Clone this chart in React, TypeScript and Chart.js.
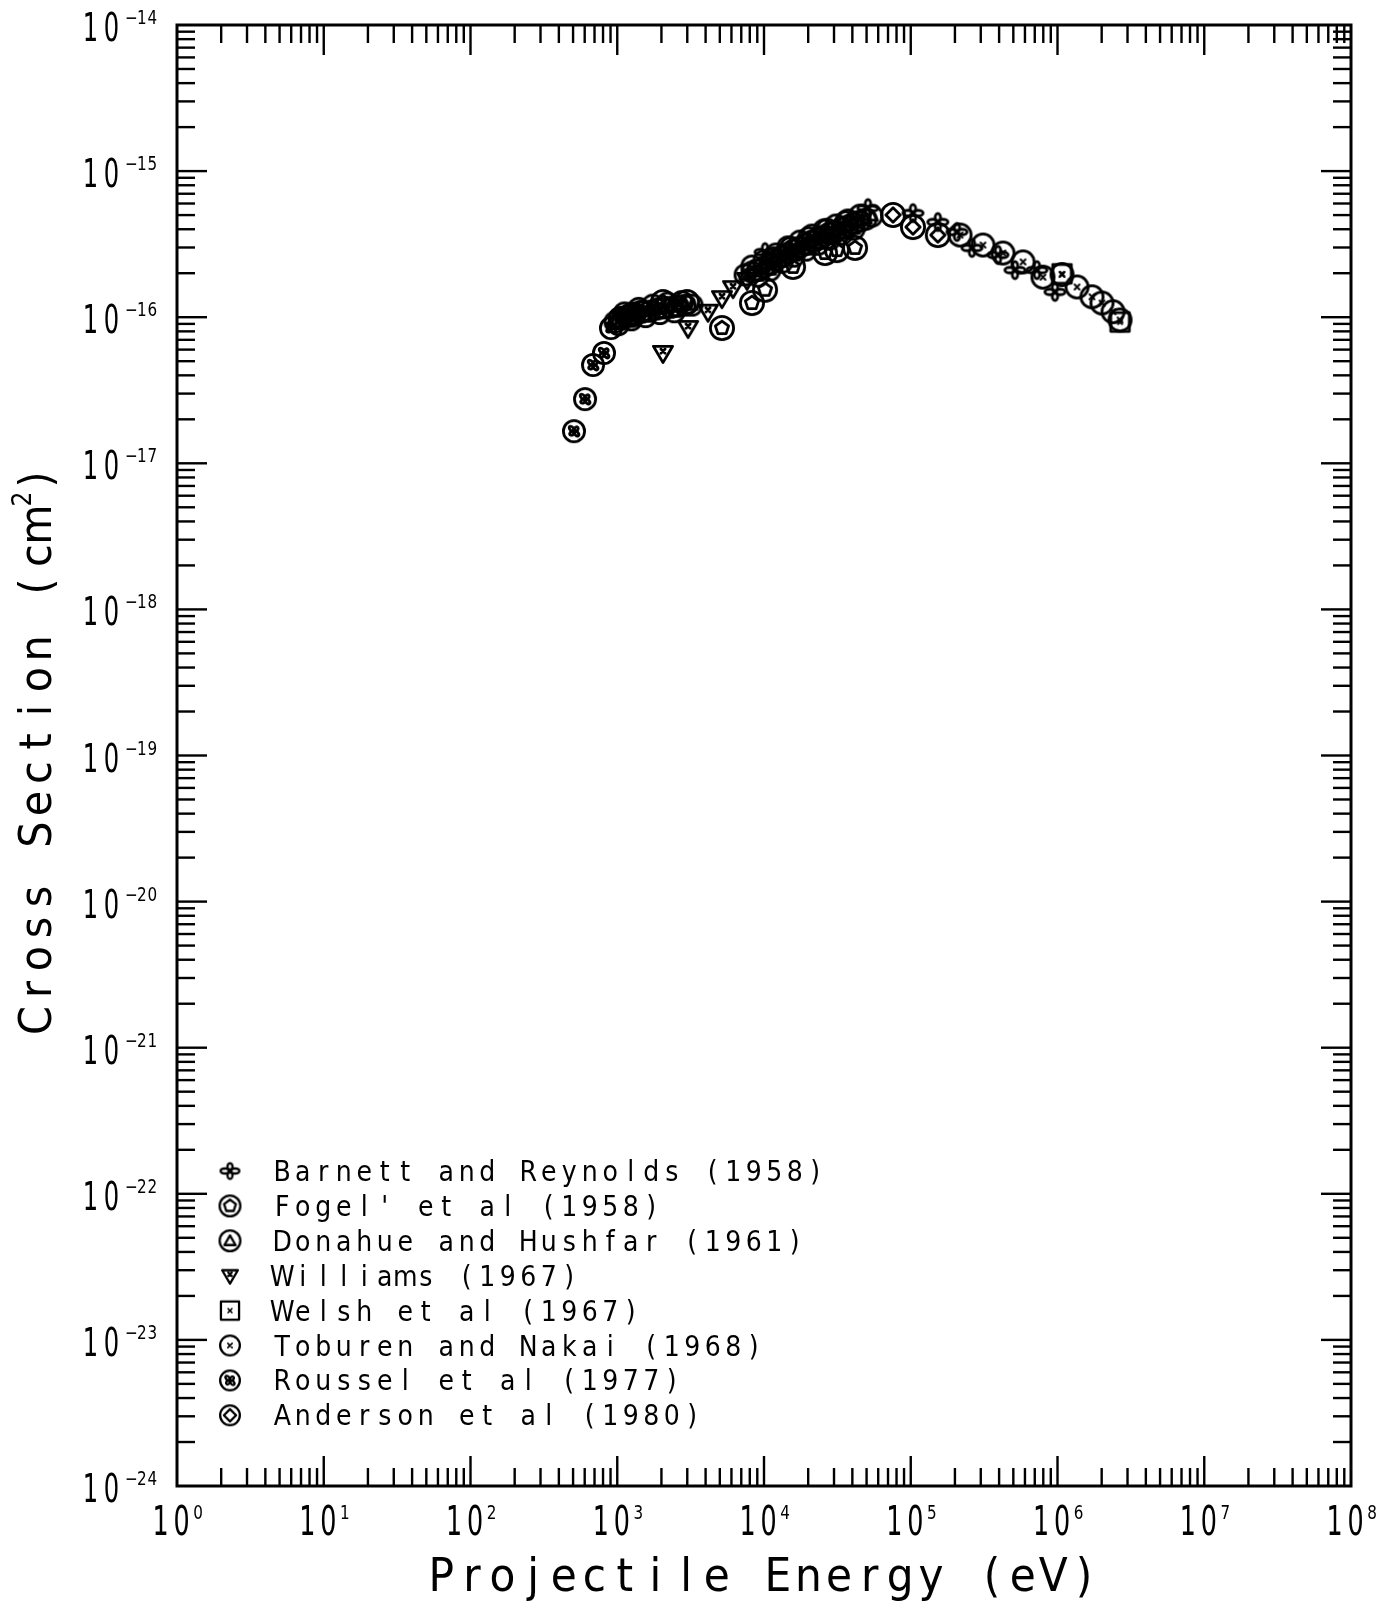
import React, { useEffect, useRef } from "react";
import { Chart, registerables } from "chart.js";
Chart.register(...registerables);

// ---------- data ----------
const seriesLabels = [
  "Barnett and Reynolds (1958)",
  "Fogel' et al (1958)",
  "Donahue and Hushfar (1961)",
  "Williams (1967)",
  "Welsh et al (1967)",
  "Toburen and Nakai (1968)",
  "Roussel et al (1977)",
  "Anderson et al (1980)",
];

const barnettE = [10160, 51100, 103500, 153000, 206600, 261400, 393000, 513000, 724000, 961000];
const barnettS = [2.79e-16, 5.58e-16, 5.16e-16, 4.48e-16, 3.83e-16, 2.98e-16, 2.67e-16, 2.1e-16, 2.1e-16, 1.49e-16];

const fogelE = [1280, 2050, 2990, 5170, 8280, 10160, 15770, 26060, 31400, 41700];
const fogelS = [1.04e-16, 1.27e-16, 1.27e-16, 8.43e-17, 1.25e-16, 1.54e-16, 2.21e-16, 2.75e-16, 2.88e-16, 2.98e-16];

const donahueE = [
  966, 1077, 1183, 1321, 1475, 1673, 1866, 2083, 2325, 2595, 2897, 3230,
  1120, 1400, 1750, 2200, 2750,
  1020, 1250, 1560, 1950, 2450,
  7430, 8280, 9100, 10000, 10990, 12080, 13270, 14580, 16000, 17590, 19330, 21240, 23340, 25650, 28180, 30970, 34030, 37360, 41050, 45110, 49570, 54470,
  8280, 10000, 12080, 14580, 17590, 21240, 25650, 30970, 37360, 45110,
  9100, 10990, 13270, 16000, 19330, 23340, 28180, 34030, 41050,
  11500, 15200, 20200, 27000, 36000,
];
const donahueS = [
  9.27e-17, 9.72e-17, 1.02e-16, 1.05e-16, 1.09e-16, 1.1e-16, 1.14e-16, 1.16e-16, 1.17e-16, 1.19e-16, 1.21e-16, 1.21e-16,
  1.07e-16, 1.15e-16, 1.21e-16, 1.25e-16, 1.28e-16,
  8.9e-17, 9.6e-17, 1.01e-16, 1.06e-16, 1.09e-16,
  1.95e-16, 2.04e-16, 2.1e-16, 2.21e-16, 2.31e-16, 2.46e-16, 2.62e-16, 2.75e-16, 2.88e-16, 3.02e-16, 3.17e-16, 3.32e-16, 3.48e-16, 3.6e-16, 3.77e-16, 3.89e-16, 4.08e-16, 4.21e-16, 4.41e-16, 4.55e-16, 4.7e-16, 4.93e-16,
  2.24e-16, 2.43e-16, 2.71e-16, 3.03e-16, 3.32e-16, 3.65e-16, 3.96e-16, 4.28e-16, 4.63e-16, 5.0e-16,
  1.91e-16, 2.1e-16, 2.38e-16, 2.62e-16, 2.88e-16, 3.16e-16, 3.43e-16, 3.71e-16, 4.01e-16,
  2.55e-16, 3.0e-16, 3.5e-16, 4.0e-16, 4.5e-16,
];

const williamsE = [2050, 3040, 4150, 5170, 6150, 7660];
const williamsS = [5.69e-17, 8.43e-17, 1.09e-16, 1.35e-16, 1.58e-16, 1.8e-16];

const welshE = [1074000, 2667000];
const welshS = [1.98e-16, 9.27e-17];

const toburenE = [216600, 310500, 425000, 582000, 796000, 1074000, 1359000, 1718000, 2010000, 2390000, 2667000];
const toburenS = [3.65e-16, 3.12e-16, 2.75e-16, 2.39e-16, 1.88e-16, 1.96e-16, 1.61e-16, 1.38e-16, 1.25e-16, 1.09e-16, 9.57e-17];

const rousselE = [507, 603, 684, 812, 906, 1044, 1222, 1452];
const rousselS = [1.66e-17, 2.75e-17, 4.71e-17, 5.69e-17, 8.43e-17, 9.88e-17, 1.04e-16, 1.09e-16];

const andersonE = [75700, 103500, 153000];
const andersonS = [5.01e-16, 4.14e-16, 3.65e-16];

const xTickExponents = [0, 1, 2, 3, 4, 5, 6, 7, 8];
const yTickExponents = [-24, -23, -22, -21, -20, -19, -18, -17, -16, -15, -14];
const xAxisTitle = "Projectile Energy (eV)";
const yAxisTitleMain = "Cross Section (cm";
const yAxisTitleSup = "2";
const yAxisTitleEnd = ")";

// ---------- symbols ----------
type Kind =
  | "flower" | "circlePentagon" | "circleTriangle" | "triDownX"
  | "squareX" | "circleX" | "circleFlower" | "circleDiamond";

const seriesKinds: Kind[] = [
  "flower", "circlePentagon", "circleTriangle", "triDownX",
  "squareX", "circleX", "circleFlower", "circleDiamond",
];
const dataSizes = [23, 26, 23, 22, 23, 25, 24, 26];
const legendSizes = [21, 23, 23, 18, 22, 22, 22, 22];

function makeSymbol(kind: Kind, S: number, lw: number): HTMLCanvasElement {
  const pad = Math.ceil(lw) + 2;
  const W = Math.ceil(S + pad * 2);
  const c = document.createElement("canvas");
  c.width = W;
  c.height = W;
  const g = c.getContext("2d")!;
  g.strokeStyle = "#000";
  g.lineWidth = lw;
  g.lineJoin = "round";
  g.lineCap = "round";
  const m = W / 2;
  const r = S / 2 - lw / 2;
  const circle = (rr: number) => {
    g.beginPath();
    g.arc(m, m, rr, 0, Math.PI * 2);
    g.stroke();
  };
  const poly = (n: number, rr: number, rot: number, cy = m) => {
    g.beginPath();
    for (let k = 0; k < n; k++) {
      const a = rot + (k * 2 * Math.PI) / n;
      const px = m + rr * Math.cos(a);
      const py = cy + rr * Math.sin(a);
      if (k === 0) g.moveTo(px, py);
      else g.lineTo(px, py);
    }
    g.closePath();
    g.stroke();
  };
  const smallX = (h: number, cy = m) => {
    g.beginPath();
    g.moveTo(m - h, cy - h);
    g.lineTo(m + h, cy + h);
    g.moveTo(m + h, cy - h);
    g.lineTo(m - h, cy + h);
    g.stroke();
  };
  const petals = (dist: number, a1: number, a2: number, rot: number) => {
    for (let k = 0; k < 4; k++) {
      const ang = rot + (k * Math.PI) / 2;
      const big = k % 2 === 0 ? 1 : 0.85;
      g.beginPath();
      g.ellipse(m + Math.cos(ang) * dist * big, m + Math.sin(ang) * dist * big, a1 * big, a2, ang, 0, Math.PI * 2);
      g.stroke();
    }
  };
  switch (kind) {
    case "flower":
      petals(r * 0.5, r * 0.5, r * 0.27, 0);
      break;
    case "circlePentagon":
      circle(r);
      poly(5, r * 0.6, -Math.PI / 2);
      break;
    case "circleTriangle":
      circle(r);
      poly(3, r * 0.62, -Math.PI / 2, m + r * 0.1);
      break;
    case "triDownX": {
      g.beginPath();
      g.moveTo(m - r, m - r * 0.7);
      g.lineTo(m + r, m - r * 0.7);
      g.lineTo(m, m + r);
      g.closePath();
      g.stroke();
      smallX(r * 0.22, m - r * 0.2);
      break;
    }
    case "squareX": {
      const h = r * 0.92;
      g.strokeRect(m - h, m - h, 2 * h, 2 * h);
      g.lineWidth = lw * 0.7;
      smallX(r * 0.2);
      break;
    }
    case "circleX":
      circle(r);
      g.lineWidth = lw * 0.7;
      smallX(r * 0.22);
      break;
    case "circleFlower":
      circle(r);
      petals(r * 0.3, r * 0.3, r * 0.17, Math.PI / 4);
      break;
    case "circleDiamond":
      circle(r);
      poly(4, r * 0.62, -Math.PI / 2);
      break;
  }
  return c;
}

// ---------- text helpers ----------
const FONT = "'DejaVu Sans', 'Liberation Sans', sans-serif";

function drawCells(
  ctx: CanvasRenderingContext2D,
  text: string,
  left: number,
  baseline: number,
  size: number,
  scaleX: number,
  pitch: number
) {
  ctx.save();
  ctx.font = `${size}px ${FONT}`;
  ctx.textAlign = "center";
  ctx.textBaseline = "alphabetic";
  ctx.fillStyle = "#000";
  for (let i = 0; i < text.length; i++) {
    const ch = text[i];
    if (ch === " ") continue;
    ctx.save();
    ctx.translate(left + pitch * (i + 0.5), baseline);
    ctx.scale(scaleX, 1);
    ctx.fillText(ch, 0, 0);
    ctx.restore();
  }
  ctx.restore();
}

export default function App() {
  const ref = useRef<HTMLCanvasElement | null>(null);

  useEffect(() => {
    document.body.style.margin = "0";
    const canvas = ref.current;
    if (!canvas) return;

    const seriesE = [barnettE, fogelE, donahueE, williamsE, welshE, toburenE, rousselE, andersonE];
    const seriesS = [barnettS, fogelS, donahueS, williamsS, welshS, toburenS, rousselS, andersonS];

    const dataSymbols = seriesKinds.map((k, i) => makeSymbol(k, dataSizes[i], 2.8));
    const legendSymbols = seriesKinds.map((k, i) => makeSymbol(k, legendSizes[i], 2.3));

    const datasets = seriesLabels.map((label, i) => ({
      label,
      data: seriesE[i].map((e, j) => ({ x: e, y: seriesS[i][j] })),
      pointStyle: dataSymbols[i] as any,
      pointRadius: dataSizes[i] / 2,
      showLine: false,
    }));

    const framePlugin = {
      id: "framePlugin",
      afterDraw(chart: any) {
        const ctx: CanvasRenderingContext2D = chart.ctx;
        const a = chart.chartArea;
        const xs = chart.scales.x;
        const ys = chart.scales.y;
        ctx.save();
        ctx.strokeStyle = "#000";
        ctx.lineWidth = 3;
        ctx.strokeRect(a.left, a.top, a.right - a.left, a.bottom - a.top);

        const MAJ = 30;
        const MIN = 18;
        ctx.lineWidth = 2.4;
        const line = (x1: number, y1: number, x2: number, y2: number) => {
          ctx.beginPath();
          ctx.moveTo(x1, y1);
          ctx.lineTo(x2, y2);
          ctx.stroke();
        };
        xTickExponents.forEach((e, i) => {
          const px = xs.getPixelForValue(Math.pow(10, e));
          if (i > 0 && i < xTickExponents.length - 1) {
            line(px, a.bottom, px, a.bottom - MAJ);
            line(px, a.top, px, a.top + MAJ);
          }
          if (i < xTickExponents.length - 1) {
            for (let k = 2; k <= 9; k++) {
              const q = xs.getPixelForValue(k * Math.pow(10, e));
              line(q, a.bottom, q, a.bottom - MIN);
              line(q, a.top, q, a.top + MIN);
            }
          }
        });
        yTickExponents.forEach((e, i) => {
          const py = ys.getPixelForValue(Math.pow(10, e));
          if (i > 0 && i < yTickExponents.length - 1) {
            line(a.left, py, a.left + MAJ, py);
            line(a.right, py, a.right - MAJ, py);
          }
          if (i < yTickExponents.length - 1) {
            for (let k = 2; k <= 9; k++) {
              const q = ys.getPixelForValue(k * Math.pow(10, e));
              line(a.left, q, a.left + MIN, q);
              line(a.right, q, a.right - MIN, q);
            }
          }
        });

        // y tick labels
        yTickExponents.forEach((e) => {
          const py = ys.getPixelForValue(Math.pow(10, e));
          drawCells(ctx, "10", 80, py + 16, 39, 0.62, 21);
          drawCells(ctx, "\u2212" + String(Math.abs(e)), 126, py - 1, 19, 0.8, 10.5);
        });
        // x tick labels
        xTickExponents.forEach((e) => {
          const px = xs.getPixelForValue(Math.pow(10, e));
          drawCells(ctx, "10", px - 27, a.bottom + 49, 41, 0.62, 21);
          drawCells(ctx, String(e), px + 16, a.bottom + 33, 19, 0.8, 10);
        });

        // x axis title
        drawCells(ctx, xAxisTitle, 426, 1591, 46, 0.92, 30.6);

        // y axis title (rotated)
        ctx.save();
        ctx.translate(51, 1036);
        ctx.rotate(-Math.PI / 2);
        drawCells(ctx, yAxisTitleMain, 0, 0, 45, 0.92, 31);
        const n = yAxisTitleMain.length;
        drawCells(ctx, yAxisTitleSup, n * 31 + 2, -20, 26, 0.9, 16);
        drawCells(ctx, yAxisTitleEnd, n * 31 + 14, 0, 45, 0.92, 31);
        ctx.restore();

        // legend
        seriesLabels.forEach((lab, i) => {
          const cy = 1171 + i * 34.9;
          const sym = legendSymbols[i];
          ctx.drawImage(sym, 230 - sym.width / 2, cy - sym.height / 2);
          drawCells(ctx, lab, 272, cy + 10, 28, 0.9, 20.5);
        });
        ctx.restore();
      },
    };

    const chart = new Chart(canvas, {
      type: "scatter",
      data: { datasets },
      options: {
        responsive: false,
        devicePixelRatio: 1,
        animation: false,
        events: [],
        layout: { padding: { left: 177, right: 40, top: 25, bottom: 126 } },
        scales: {
          x: { type: "logarithmic", min: 1, max: 1e8, display: false },
          y: { type: "logarithmic", min: 1e-24, max: 1e-14, display: false },
        },
        plugins: { legend: { display: false }, tooltip: { enabled: false } },
      },
      plugins: [framePlugin],
    } as any);

    return () => chart.destroy();
  }, []);

  return <canvas ref={ref} width={1391} height={1612} style={{ display: "block" }} />;
}
